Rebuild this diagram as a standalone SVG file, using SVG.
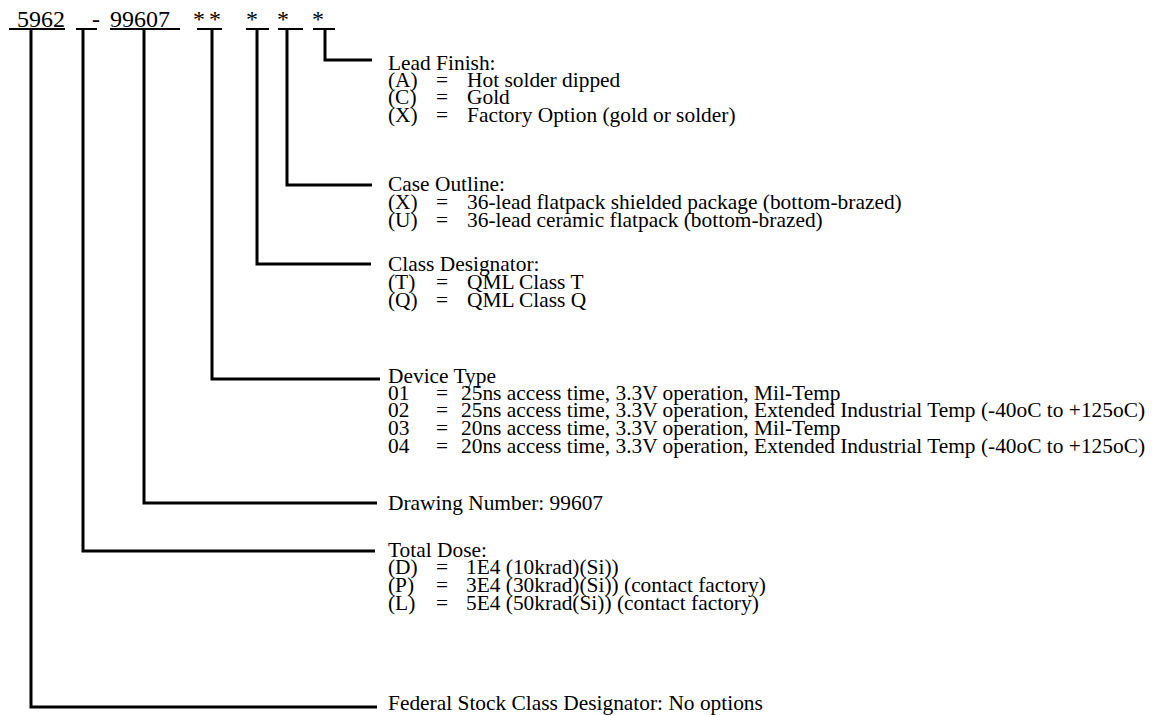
<svg xmlns="http://www.w3.org/2000/svg" width="1155" height="715" viewBox="0 0 1155 715">
<style>
text{font-family:"Liberation Serif","Times New Roman",serif;fill:#000}
.h{font-size:24px}
.t{font-size:21.4px}
.c{fill:none;stroke:#000;stroke-width:3;stroke-linejoin:miter;stroke-linecap:butt}
.u{stroke:#000;stroke-width:2}
</style>
<rect width="1155" height="715" fill="#fff"/>
<g id="part-number">
<text class="h" x="17" y="27">5962</text>
<text class="h" x="92" y="27">-</text>
<text class="h" x="110" y="27">99607</text>
<text class="h" x="193" y="27">*</text>
<text class="h" x="209" y="27">*</text>
<text class="h" x="246" y="27">*</text>
<text class="h" x="277" y="27">*</text>
<text class="h" x="312" y="27">*</text>
<line class="u" x1="9" y1="29" x2="65" y2="29"/>
<line class="u" x1="76" y1="29" x2="97" y2="29"/>
<line class="u" x1="110" y1="29" x2="180" y2="29"/>
<line class="u" x1="197" y1="29" x2="222" y2="29"/>
<line class="u" x1="246" y1="29" x2="269" y2="29"/>
<line class="u" x1="278" y1="29" x2="303" y2="29"/>
<line class="u" x1="313" y1="29" x2="335" y2="29"/>
</g>
<g id="connectors">
<polyline class="c" points="325,29 325,60 372,60"/>
<polyline class="c" points="287,29 287,185 372,185"/>
<polyline class="c" points="257,29 257,264 371,264"/>
<polyline class="c" points="212,29 212,379 380,379"/>
<polyline class="c" points="144,29 144,503 377,503"/>
<polyline class="c" points="83,29 83,551 375,551"/>
<polyline class="c" points="31,29 31,707 377,707"/>
</g>
<g id="lead-finish">
<text class="t" x="388" y="70">Lead Finish:</text>
<text class="t" x="388" y="87">(A)</text><text class="t" x="436" y="87">=</text><text class="t" x="467" y="87">Hot solder dipped</text>
<text class="t" x="388" y="104">(C)</text><text class="t" x="436" y="104">=</text><text class="t" x="467" y="104">Gold</text>
<text class="t" x="388" y="122">(X)</text><text class="t" x="436" y="122">=</text><text class="t" x="467" y="122">Factory Option (gold or solder)</text>
</g>
<g id="case-outline">
<text class="t" x="388" y="191">Case Outline:</text>
<text class="t" x="388" y="209">(X)</text><text class="t" x="436" y="209">=</text><text class="t" x="467" y="209">36-lead flatpack shielded package (bottom-brazed)</text>
<text class="t" x="388" y="227">(U)</text><text class="t" x="436" y="227">=</text><text class="t" x="467" y="227">36-lead ceramic flatpack (bottom-brazed)</text>
</g>
<g id="class-designator">
<text class="t" x="388" y="271">Class Designator:</text>
<text class="t" x="388" y="289">(T)</text><text class="t" x="436" y="289">=</text><text class="t" x="467" y="289">QML Class T</text>
<text class="t" x="388" y="307">(Q)</text><text class="t" x="436" y="307">=</text><text class="t" x="467" y="307">QML Class Q</text>
</g>
<g id="device-type">
<text class="t" x="388" y="383">Device Type</text>
<text class="t" x="388" y="400">01</text><text class="t" x="436" y="400">=</text><text class="t" x="461" y="400">25ns access time, 3.3V operation, Mil-Temp</text>
<text class="t" x="388" y="417">02</text><text class="t" x="436" y="417">=</text><text class="t" x="461" y="417">25ns access time, 3.3V operation, Extended Industrial Temp (-40oC to +125oC)</text>
<text class="t" x="388" y="435">03</text><text class="t" x="436" y="435">=</text><text class="t" x="461" y="435">20ns access time, 3.3V operation, Mil-Temp</text>
<text class="t" x="388" y="453">04</text><text class="t" x="436" y="453">=</text><text class="t" x="461" y="453">20ns access time, 3.3V operation, Extended Industrial Temp (-40oC to +125oC)</text>
</g>
<g id="drawing-number">
<text class="t" x="388" y="510">Drawing Number: 99607</text>
</g>
<g id="total-dose">
<text class="t" x="388" y="557">Total Dose:</text>
<text class="t" x="388" y="574">(D)</text><text class="t" x="436" y="574">=</text><text class="t" x="466" y="574">1E4 (10krad)(Si))</text>
<text class="t" x="388" y="592">(P)</text><text class="t" x="436" y="592">=</text><text class="t" x="466" y="592">3E4 (30krad)(Si)) (contact factory)</text>
<text class="t" x="388" y="610">(L)</text><text class="t" x="436" y="610">=</text><text class="t" x="466" y="610">5E4 (50krad(Si)) (contact factory)</text>
</g>
<g id="federal-stock">
<text class="t" x="388" y="710">Federal Stock Class Designator: No options</text>
</g>
</svg>
